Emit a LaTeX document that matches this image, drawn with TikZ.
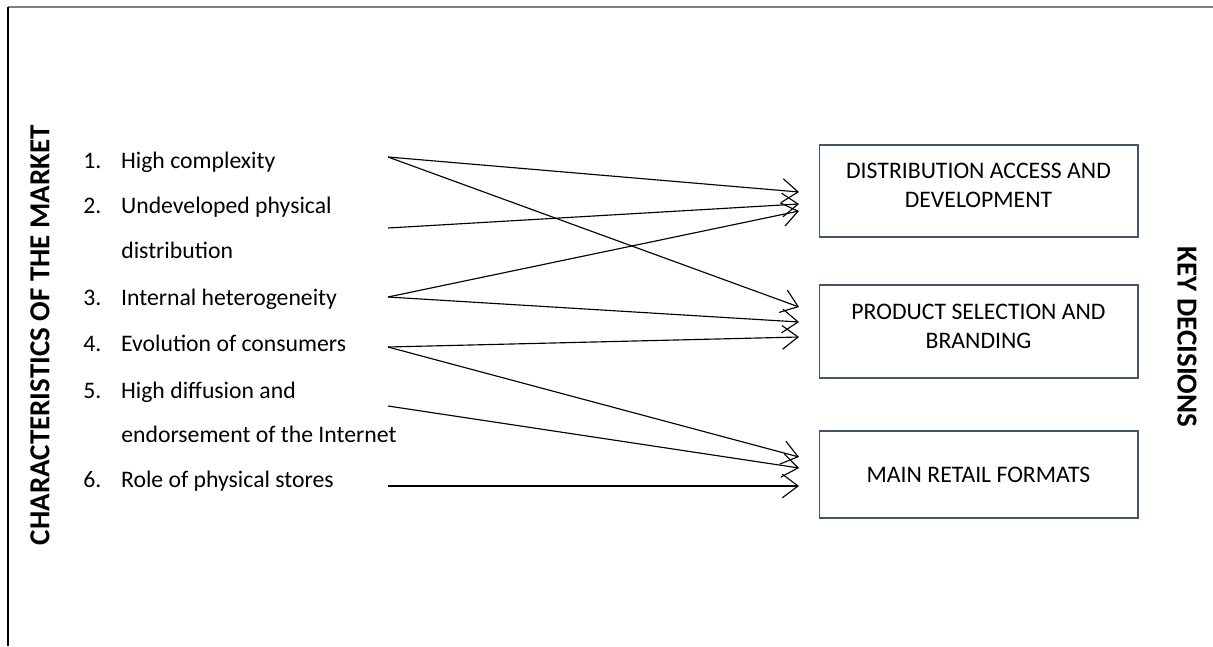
\documentclass[tikz,border=0pt]{standalone}
\usepackage{fontspec}
\setmainfont{Carlito}
\usepackage{tikz}
\usetikzlibrary{arrows.meta}
\definecolor{boxc}{RGB}{68,84,106}
\definecolor{framec}{RGB}{128,128,128}
\newcommand{\itm}[2]{\makebox[21.5pt][l]{#1.}#2}

\begin{document}
\begin{tikzpicture}[x=0.02cm,y=-0.02cm,>={Straight Barb[length=9pt,width=13.5pt]},
  txt/.style={anchor=base west,inner sep=0pt,font=\fontsize{13.5}{16.5}\selectfont},
  decision/.style={draw=boxc,line width=0.6pt,inner sep=0pt,minimum width=6.38cm,
    align=center,font=\fontsize{13.5}{16.5}\selectfont},
  side/.style={font=\fontsize{16.5}{18}\selectfont\bfseries,inner sep=0pt},
  link/.style={->,line width=0.65pt}]
  \useasboundingbox (0,0) rectangle (1213,646);
  % frame
  \draw[framec,line width=1.2pt] (8,7) -- (1213,7);
  \draw[line width=0.6pt] (8,7) -- (8,646);
  % side titles
  \node[side,rotate=90] (market) at (40,335) {CHARACTERISTICS OF THE MARKET};
  \node[side,rotate=-90] (keydec) at (1187,337) {KEY DECISIONS};
  % market characteristics
  \node[txt] (n1) at (83,168) {\itm{1}{High complexity}};
  \node[txt] (n2) at (83,213) {\itm{2}{Undeveloped physical}};
  \node[txt] (n2b) at (121,258) {distribution};
  \node[txt] (n3) at (83,305) {\itm{3}{Internal heterogeneity}};
  \node[txt] (n4) at (83,351) {\itm{4}{Evolution of consumers}};
  \node[txt] (n5) at (83,398) {\itm{5}{High diffusion and}};
  \node[txt] (n5b) at (121,442) {endorsement of the Internet};
  \node[txt] (n6) at (83,487) {\itm{6}{Role of physical stores}};
  % key decisions
  \node[decision,minimum height=1.84cm,text depth=7pt] (dist) at (978.5,191) {DISTRIBUTION ACCESS AND\\DEVELOPMENT};
  \node[decision,minimum height=1.86cm,text depth=6pt] (prod) at (978.5,331.5) {PRODUCT SELECTION AND\\BRANDING};
  \node[decision,minimum height=1.74cm] (form) at (978.5,474.5) {MAIN RETAIL FORMATS};
  % arrow ends
  \coordinate (s1) at (388,157);
  \coordinate (s2) at (388,228);
  \coordinate (s3) at (388,297);
  \coordinate (s4) at (388,347);
  \coordinate (s5) at (388,406);
  \coordinate (s6) at (388,486);
  \coordinate (da) at (799,192);
  \coordinate (db) at (799,204);
  \coordinate (dc) at (799,211);
  \coordinate (pa) at (799,307);
  \coordinate (pb) at (799,322);
  \coordinate (pc) at (799,337);
  \coordinate (fa) at (799,457);
  \coordinate (fb) at (799,468);
  \coordinate (fc) at (799,486);
  % links
  \draw[link] (s1) -- (da);
  \draw[link] (s1) -- (pa);
  \draw[link] (s2) -- (db);
  \draw[link] (s3) -- (dc);
  \draw[link] (s3) -- (pb);
  \draw[link] (s4) -- (pc);
  \draw[link] (s4) -- (fa);
  \draw[link] (s5) -- (fb);
  \draw[link] (s6) -- (fc);
\end{tikzpicture}
\end{document}
